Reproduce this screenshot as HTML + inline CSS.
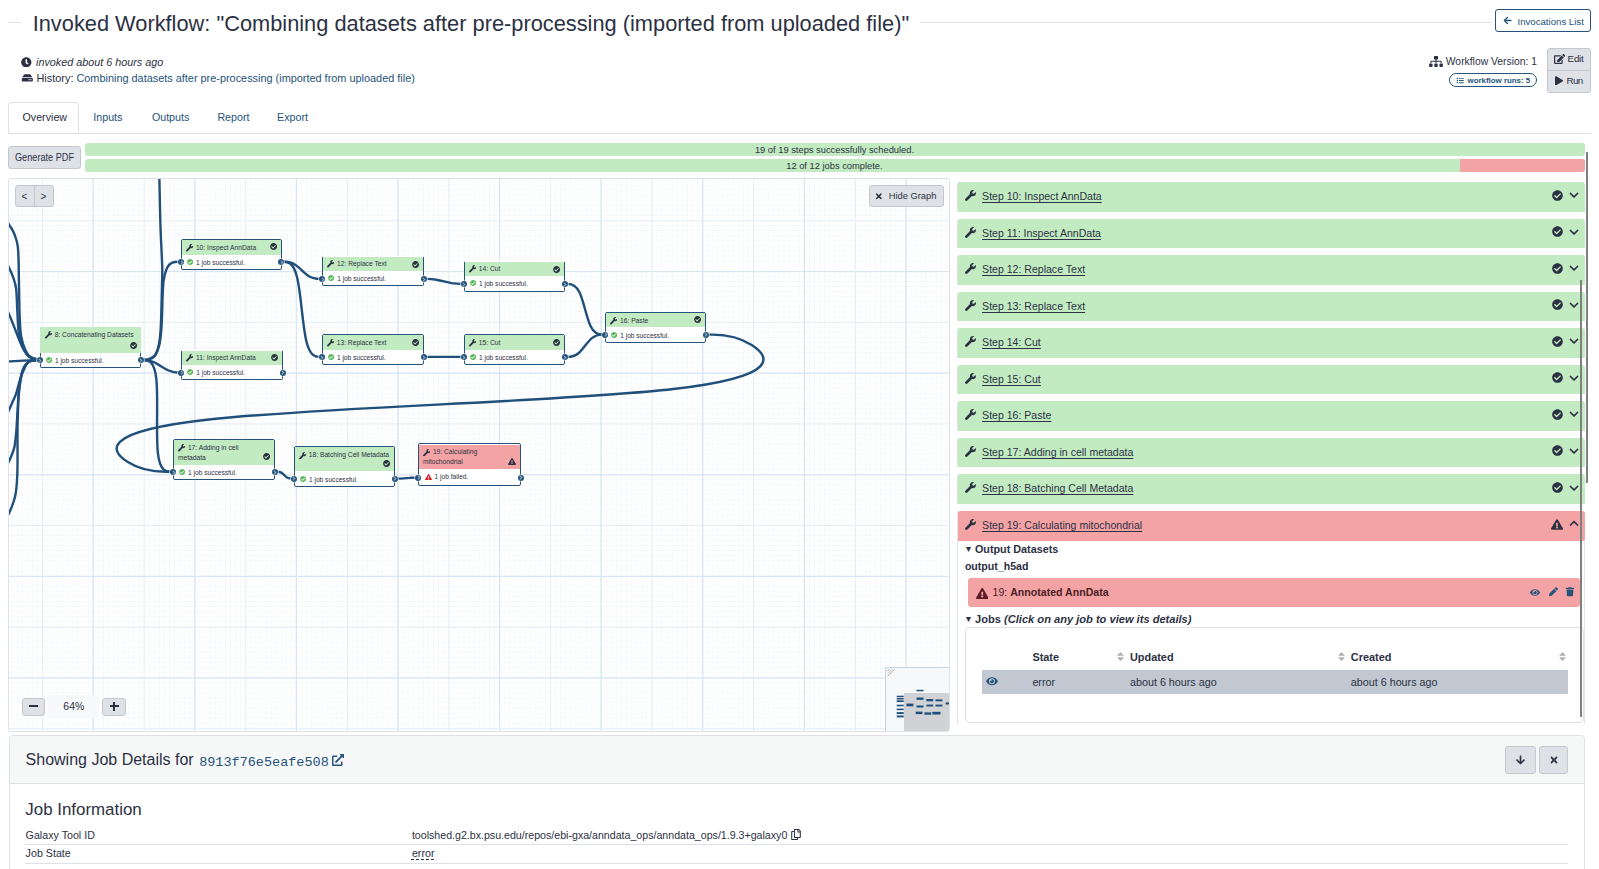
<!DOCTYPE html>
<html><head><meta charset="utf-8">
<style>
*{box-sizing:border-box;margin:0;padding:0}
html,body{width:1599px;height:869px;overflow:hidden;background:#fff}
body{font-family:"Liberation Sans",sans-serif;color:#2c3143;font-size:10.75px;position:relative}
.abs{position:absolute}
.t{position:absolute;white-space:nowrap;line-height:1}
.ico{position:absolute;display:block}
.ico svg{display:block;width:100%;height:100%}
.hr{position:absolute;height:1px;background:#dee2e6}
a{color:#25537b;text-decoration:none}
.btn2{position:absolute;background:#dee2e6;border:1px solid #c3c8ce;border-radius:3px}
/* canvas */
#canvas{position:absolute;left:8px;top:178px;width:942px;height:554px;border:1px solid #dee2e6;border-radius:3px;overflow:hidden;
 background-color:#fff;
 background-image:
  linear-gradient(to right, #d6e4f2 1.3px, transparent 1.3px),
  linear-gradient(to bottom, #d8e5f2 1.2px, transparent 1.2px),
  linear-gradient(to right, #e5edf6 1px, transparent 1px),
  linear-gradient(to bottom, #e5edf6 1px, transparent 1px),
  linear-gradient(to right, #f6f9fc 1px, transparent 1px),
  linear-gradient(to bottom, #f6f9fc 1px, transparent 1px);
 background-size:101.6px 101.6px,101.6px 101.6px,50.8px 50.8px,50.8px 50.8px,5.08px 5.08px,5.08px 5.08px;
 background-position:83.6px 41.3px,83.6px -9.5px,33.1px -9.5px,33.1px -9.5px,2.7px 0.5px,2.7px 0.5px;
}
#cv{position:absolute;left:-9px;top:-179px;width:1599px;height:869px}
#links{position:absolute;left:0;top:0;width:1599px;height:869px}
#links path{fill:none;stroke:#1f4f7a;stroke-width:2.4}
.node{position:absolute;border:1px solid #25537b;border-radius:2px;background:#fff}
.nh{position:absolute;left:0;right:0;border-radius:1px 1px 0 0}
.nt{position:absolute;font-size:6.7px;line-height:1;white-space:nowrap;color:#2c3143}
.wr{position:absolute;display:block;width:7.5px;height:7.5px;color:#2c3143}
.wr svg,.nci svg,.gck svg,.rtri svg{width:100%;height:100%;display:block}
.nci{position:absolute;width:7.2px;height:7.2px;color:#2c3143}
.gck{position:absolute;width:6.2px;height:6.2px;color:#5cb85c}
.rtri{position:absolute;width:7px;height:6.3px;color:#dc1f26}
.term{position:absolute;width:6px;height:6px;border-radius:50%;background:#25537b;box-shadow:0 0 0 0.6px #fff}
.term:after{content:"";position:absolute;left:1.3px;top:1.9px;width:1.6px;height:1.6px;border-right:0.8px solid #9fb6cc;border-top:0.8px solid #9fb6cc;transform:rotate(45deg)}
/* steps */
.step{position:absolute;left:957.3px;width:627.7px;height:29.6px;background:#c2ebc2;border-radius:3px 3px 0 0;border-left:1.5px solid #dfe3e7}
.step .wr2{position:absolute;left:6.6px;top:8px;width:11px;height:11px}
.step .lbl{position:absolute;left:23.8px;top:9px;font-size:10.55px;line-height:1;text-decoration:underline;text-underline-offset:1.5px;text-decoration-skip-ink:none;white-space:nowrap;color:#2c3143}
.step .ck{position:absolute;left:593.3px;top:7.6px;width:11px;height:11px}
.step .chev{position:absolute;left:610.3px;top:8.2px;width:10px;height:10.5px}
</style></head><body>

<!-- header -->
<div class="hr" style="left:8px;top:22px;width:13px"></div>
<div class="t" style="left:32.7px;top:12.5px;font-size:21.8px;color:#2c3143">Invoked Workflow: "Combining datasets after pre-processing (imported from uploaded file)"</div>
<div class="hr" style="left:920px;top:22px;width:572px"></div>
<div class="abs" style="left:1495px;top:9px;width:96px;height:23px;border:1px solid #25537b;border-radius:3px"></div>
<svg class="ico" style="left:1502.5px;top:15.5px;width:9px;height:9px" viewBox="0 0 448 512"><path fill="#25537b" d="M257.5 445.1l-22.2 22.2c-9.4 9.4-24.6 9.4-33.9 0L7 273c-9.4-9.4-9.4-24.6 0-33.9L201.4 44.7c9.4-9.4 24.6-9.4 33.9 0l22.2 22.2c9.5 9.5 9.3 25-.4 34.3L136.6 216H424c13.3 0 24 10.7 24 24v32c0 13.3-10.7 24-24 24H136.6l120.5 114.8c9.8 9.3 10 24.8.4 34.3z"/></svg>
<div class="t" style="left:1517.5px;top:16.5px;font-size:9.65px;color:#25537b">Invocations List</div>

<svg class="ico" style="left:21px;top:56.5px;width:10.6px;height:10.6px" viewBox="0 0 512 512"><path fill="#2c3143" d="M256 8C119 8 8 119 8 256s111 248 248 248 248-111 248-248S393 8 256 8zm57.1 350.1L224.9 294c-3.1-2.3-4.9-5.9-4.9-9.7V116c0-6.6 5.4-12 12-12h48c6.6 0 12 5.4 12 12v137.7l63.5 46.2c5.4 3.9 6.5 11.4 2.6 16.8l-28.2 38.8c-3.9 5.3-11.4 6.5-16.8 2.6z"/></svg>
<div class="t" style="left:36px;top:57px;font-size:10.8px;font-style:italic">invoked about 6 hours ago</div>
<svg class="ico" style="left:20.8px;top:73.3px;width:12.6px;height:9.8px" viewBox="0 0 576 512"><path fill="#2c3143" d="M576 304v96c0 26.51-21.49 48-48 48H48c-26.51 0-48-21.49-48-48v-96c0-26.51 21.49-48 48-48h480c26.51 0 48 21.49 48 48zm-48-80a79.557 79.557 0 0 1 30.777 6.165L462.25 85.374A48.003 48.003 0 0 0 422.311 64H153.689a48 48 0 0 0-39.938 21.374L17.223 230.165A79.557 79.557 0 0 1 48 224h480zm-48 96c-17.673 0-32 14.327-32 32s14.327 32 32 32 32-14.327 32-32-14.327-32-32-32zm-96 0c-17.673 0-32 14.327-32 32s14.327 32 32 32 32-14.327 32-32-14.327-32-32-32z"/></svg>
<div class="t" style="left:36.5px;top:72.9px;font-size:10.9px">History: <a>Combining datasets after pre-processing (imported from uploaded file)</a></div>

<svg class="ico" style="left:1429px;top:56px;width:14px;height:11px" viewBox="0 0 640 512"><path fill="#2c3143" d="M128 352H32c-17.67 0-32 14.33-32 32v96c0 17.67 14.33 32 32 32h96c17.67 0 32-14.33 32-32v-96c0-17.67-14.33-32-32-32zm-24-80h192v48h48v-48h192v48h48v-57.59c0-21.17-17.23-38.41-38.41-38.41H344v-64h40c17.67 0 32-14.33 32-32V32c0-17.67-14.33-32-32-32H256c-17.67 0-32 14.33-32 32v96c0 17.67 14.33 32 32 32h40v64H94.41C73.23 224 56 241.23 56 262.41V320h48v-48zm264 80h-96c-17.67 0-32 14.33-32 32v96c0 17.67 14.33 32 32 32h96c17.67 0 32-14.33 32-32v-96c0-17.67-14.33-32-32-32zm240 0h-96c-17.67 0-32 14.33-32 32v96c0 17.67 14.33 32 32 32h96c17.67 0 32-14.33 32-32v-96c0-17.67-14.33-32-32-32z"/></svg>
<div class="t" style="left:1445.8px;top:57.3px;font-size:10.35px">Workflow Version: 1</div>
<div class="abs" style="left:1449.3px;top:73px;width:87.5px;height:13.5px;border:1px solid #25537b;border-radius:7px"></div>
<svg class="ico" style="left:1455.8px;top:76.6px;width:8.5px;height:7px" viewBox="0 0 512 512"><path fill="#25537b" d="M80 368H16a16 16 0 0 0-16 16v64a16 16 0 0 0 16 16h64a16 16 0 0 0 16-16v-64a16 16 0 0 0-16-16zm0-320H16A16 16 0 0 0 0 64v64a16 16 0 0 0 16 16h64a16 16 0 0 0 16-16V64a16 16 0 0 0-16-16zm0 160H16a16 16 0 0 0-16 16v64a16 16 0 0 0 16 16h64a16 16 0 0 0 16-16v-64a16 16 0 0 0-16-16zm416 176H176a16 16 0 0 0-16 16v32a16 16 0 0 0 16 16h320a16 16 0 0 0 16-16v-32a16 16 0 0 0-16-16zm0-320H176a16 16 0 0 0-16 16v32a16 16 0 0 0 16 16h320a16 16 0 0 0 16-16V80a16 16 0 0 0-16-16zm0 160H176a16 16 0 0 0-16 16v32a16 16 0 0 0 16 16h320a16 16 0 0 0 16-16v-32a16 16 0 0 0-16-16z"/></svg>
<div class="t" style="left:1467.5px;top:76.9px;font-size:7.9px;font-weight:bold;color:#25537b">workflow runs: 5</div>
<div class="btn2" style="left:1547.3px;top:48.3px;width:43.3px;height:44.8px"></div>
<div class="hr" style="left:1548px;top:70px;width:42px;background:#c3c8ce"></div>
<svg class="ico" style="left:1553.5px;top:53.8px;width:11.2px;height:10px" viewBox="0 0 576 512"><path fill="#2c3143" d="M402.6 83.2l90.2 90.2c3.8 3.8 3.8 10 0 13.8L274.4 405.6l-92.8 10.3c-12.4 1.4-22.9-9.1-21.5-21.5l10.3-92.8L388.8 83.2c3.8-3.8 10-3.8 13.8 0zm162-22.9l-48.8-48.8c-15.2-15.2-39.9-15.2-55.2 0l-35.4 35.4c-3.8 3.8-3.8 10 0 13.8l90.2 90.2c3.8 3.8 10 3.8 13.8 0l35.4-35.4c15.2-15.3 15.2-40 0-55.2zM384 346.2V448H64V128h229.8c3.2 0 6.2-1.3 8.5-3.5l40-40c7.6-7.6 2.2-20.5-8.5-20.5H48C21.5 64 0 85.5 0 112v352c0 26.5 21.5 48 48 48h352c26.5 0 48-21.5 48-48V306.2c0-10.7-12.9-16-20.5-8.5l-40 40c-2.2 2.3-3.5 5.3-3.5 8.5z"/></svg>
<div class="t" style="left:1567.6px;top:54.0px;font-size:9.8px;letter-spacing:-0.25px">Edit</div>
<svg class="ico" style="left:1555px;top:75.5px;width:8px;height:9.5px" viewBox="0 0 448 512"><path fill="#2c3143" d="M424.4 214.7L72.4 6.6C43.8-10.3 0 6.1 0 47.9V464c0 37.5 40.7 60.1 72.4 41.3l352-208c31.4-18.5 31.5-64.1 0-82.6z"/></svg>
<div class="t" style="left:1566.5px;top:76.4px;font-size:9.8px;letter-spacing:-0.6px">Run</div>

<!-- tabs -->
<div class="abs" style="left:8.3px;top:102.3px;width:70.5px;height:32px;border:1px solid #dee2e6;border-bottom:none;border-radius:4px 4px 0 0;background:#fff"></div>
<div class="hr" style="left:8px;top:133px;width:1583px"></div>
<div class="t" style="left:22.5px;top:111.6px;font-size:10.7px;color:#2c3143">Overview</div>
<div class="t" style="left:93.3px;top:111.6px;font-size:10.7px;color:#25537b">Inputs</div>
<div class="t" style="left:151.9px;top:111.6px;font-size:10.7px;color:#25537b">Outputs</div>
<div class="t" style="left:217.4px;top:111.6px;font-size:10.7px;color:#25537b">Report</div>
<div class="t" style="left:277.1px;top:111.6px;font-size:10.7px;color:#25537b">Export</div>

<div class="btn2" style="left:8.3px;top:146px;width:72.4px;height:23px"></div>
<div class="t" style="left:15.4px;top:153.3px;font-size:10px;transform:scaleX(0.915);transform-origin:0 0">Generate PDF</div>
<div class="abs" style="left:85.1px;top:143.1px;width:1500.4px;height:12.5px;background:#c2ebc2;border-radius:3px"></div>
<div class="abs" style="left:85.1px;top:159px;width:1500.4px;height:12.8px;background:#c2ebc2;border-radius:3px;overflow:hidden"><div class="abs" style="left:1375.2px;top:0;width:130px;height:13px;background:#f4a3a5"></div></div>
<div class="t" style="left:754.9px;top:145.6px;font-size:9.33px">19 of 19 steps successfully scheduled.</div>
<div class="t" style="left:786.2px;top:161.8px;font-size:9.33px">12 of 12 jobs complete.</div>

<!-- canvas -->
<div id="canvas">
<div id="cv">
<svg id="links" viewBox="0 0 1599 869">
<path d="M140.9,360.0 L142.9,360.0 C144.9,360.0 148.9,360.0 153.7,362.1 C158.4,364.2 163.9,368.4 168.7,370.5 C173.4,372.6 177.4,372.6 179.4,372.6 L181.4,372.6"/>
<path d="M140.9,360.0 L144.2,360.0 C147.6,360.0 154.2,360.0 156.3,378.6 C158.4,397.3 155.8,434.5 157.9,453.2 C160.0,471.8 166.6,471.8 170.0,471.8 L173.3,471.8"/>
<path d="M281.4,261.8 L283.7,261.8 C286.1,261.8 290.7,261.8 295.2,264.7 C299.7,267.5 304.1,273.2 308.6,276.0 C313.1,278.9 317.7,278.9 320.1,278.9 L322.4,278.9"/>
<path d="M281.4,261.8 L284.4,261.8 C287.4,261.8 293.4,261.8 297.2,277.7 C301.0,293.5 302.5,325.2 306.3,341.0 C310.1,356.9 316.1,356.9 319.1,356.9 L322.1,356.9"/>
<path d="M423.7,278.9 L425.7,278.9 C427.7,278.9 431.7,278.9 436.4,279.7 C441.2,280.6 446.7,282.2 451.4,283.1 C456.2,283.9 460.2,283.9 462.2,283.9 L464.2,283.9"/>
<path d="M423.8,356.9 L425.8,356.9 C427.8,356.9 431.8,356.9 436.5,356.9 C441.3,356.9 446.7,356.9 451.5,356.9 C456.2,356.9 460.2,356.9 462.2,356.9 L464.2,356.9"/>
<path d="M564.7,283.9 L567.4,283.9 C570.0,283.9 575.4,283.9 579.5,292.3 C583.6,300.8 586.5,317.7 590.6,326.2 C594.7,334.6 600.1,334.6 602.7,334.6 L605.4,334.6"/>
<path d="M564.7,356.9 L567.0,356.9 C569.4,356.9 574.0,356.9 578.5,353.2 C582.9,349.5 587.2,342.0 591.6,338.3 C596.1,334.6 600.7,334.6 603.1,334.6 L605.4,334.6"/>
<path d="M274.6,471.8 L275.9,471.8 C277.3,471.8 279.9,471.8 281.9,472.9 C283.8,474.1 285.0,476.3 286.9,477.5 C288.9,478.6 291.5,478.6 292.9,478.6 L294.2,478.6"/>
<path d="M394.7,478.6 L396.2,478.6 C397.7,478.6 400.7,478.6 403.1,478.4 C405.6,478.3 407.4,477.9 409.9,477.8 C412.3,477.6 415.3,477.6 416.8,477.6 L418.3,477.6"/>
<path d="M705.7,334.6 L713.2,334.6 C720.7,334.6 735.6,334.6 751.7,345.0 C767.8,355.4 785.1,376.1 673.4,389.0 C561.8,401.9 321.4,407.0 208.9,419.5 C96.5,431.9 112.0,451.9 127.4,461.8 C142.8,471.8 158.1,471.8 165.7,471.8 L173.3,471.8"/>
<path d="M141.0,360.0 C142.3,359.9 146.6,360.0 149.0,359.2 C151.4,358.4 153.6,357.4 155.3,355.0 C157.0,352.6 158.3,349.2 159.3,345.0 C160.3,340.8 160.8,335.8 161.3,330.0 C161.8,324.2 162.0,315.6 162.2,310.0 C162.4,304.4 162.4,301.3 162.6,296.4 C162.8,291.5 163.0,284.9 163.6,280.5 C164.2,276.1 165.2,272.7 166.2,270.0 C167.2,267.3 168.1,265.8 169.5,264.5 C170.9,263.2 172.5,262.4 174.5,262.0 C176.5,261.6 180.2,261.8 181.3,261.8"/>
<path d="M141.0,360.0 C142.3,359.9 146.7,360.1 149.0,359.4 C151.3,358.6 153.4,357.9 155.0,355.5 C156.6,353.1 157.9,349.2 158.8,345.0 C159.7,340.8 160.2,335.8 160.6,330.0 C161.0,324.2 161.2,317.7 161.4,310.2 C161.6,302.7 161.8,291.7 162.0,285.0 C162.2,278.3 162.3,274.4 162.3,270.0 C162.3,265.6 162.2,266.3 161.9,258.6 C161.6,250.9 160.8,237.3 160.4,224.0 C160.0,210.7 159.6,189.7 159.4,179.0 C159.2,168.3 159.2,163.2 159.2,160.0"/>
<path d="M4.0,216.5 C4.8,217.9 7.5,222.2 9.1,224.7 C10.7,227.2 12.1,229.2 13.3,231.6 C14.5,234.0 15.3,236.4 16.1,239.0 C16.9,241.6 17.5,243.6 17.9,247.3 C18.3,251.0 18.4,255.7 18.6,261.1 C18.8,266.5 18.7,270.1 18.9,279.5 C19.1,288.9 19.3,308.2 19.7,317.6 C20.1,327.0 20.2,330.6 21.1,336.0 C22.0,341.4 23.7,346.3 25.3,349.9 C26.9,353.4 28.3,355.6 30.8,357.3 C33.3,359.0 38.6,359.6 40.1,360.0"/>
<path d="M5.0,260.0 C5.7,261.3 7.7,265.1 9.1,268.0 C10.5,270.9 12.1,274.2 13.3,277.7 C14.5,281.1 15.5,283.6 16.1,288.7 C16.8,293.8 16.8,301.3 17.2,308.4 C17.6,315.5 17.9,325.6 18.6,331.5 C19.3,337.4 20.1,340.2 21.5,344.0 C22.9,347.8 25.1,352.0 27.0,354.5 C28.9,357.0 30.8,358.1 33.0,359.0 C35.2,359.9 38.9,359.8 40.1,360.0"/>
<path d="M4.0,303.5 C4.8,305.3 7.4,310.5 9.1,314.4 C10.8,318.3 12.6,322.8 14.2,326.9 C15.8,331.0 17.3,335.1 18.8,338.8 C20.3,342.5 21.7,346.1 23.4,349.0 C25.1,351.9 26.2,354.6 29.0,356.4 C31.8,358.2 38.2,359.4 40.1,360.0"/>
<path d="M0.0,361.7 C1.5,361.6 5.2,361.6 9.1,361.4 C13.0,361.2 18.2,360.8 23.4,360.6 C28.6,360.4 37.3,360.1 40.1,360.0"/>
<path d="M40.1,360.0 C38.2,360.2 31.8,359.7 29.0,361.5 C26.2,363.3 24.9,367.5 23.4,370.7 C21.8,373.9 20.9,377.0 19.7,380.8 C18.5,384.6 17.3,390.2 16.1,393.7 C14.9,397.2 13.7,399.3 12.5,402.0 C11.3,404.7 10.3,407.1 9.1,409.8 C7.8,412.5 5.7,416.6 5.0,418.0"/>
<path d="M40.1,360.0 C38.2,360.3 31.9,360.0 29.0,361.8 C26.1,363.6 24.2,366.3 22.5,371.0 C20.8,375.7 19.8,383.5 19.0,390.0 C18.2,396.5 18.0,403.3 17.6,410.0 C17.2,416.7 16.9,423.7 16.4,430.0 C15.8,436.3 15.5,442.4 14.3,447.6 C13.1,452.8 10.7,457.7 9.1,461.1 C7.5,464.5 5.7,466.9 5.0,468.0"/>
<path d="M40.1,360.0 C38.2,360.3 31.9,360.0 29.0,361.8 C26.1,363.6 24.1,366.3 22.5,371.0 C20.9,375.7 19.9,383.4 19.2,390.0 C18.4,396.6 18.3,403.6 18.0,410.3 C17.7,417.0 17.6,419.8 17.5,430.0 C17.4,440.2 17.7,461.1 17.4,471.5 C17.1,481.9 16.6,487.0 15.9,492.2 C15.2,497.4 14.4,499.1 13.3,502.5 C12.2,505.9 10.5,510.0 9.1,512.9 C7.7,515.8 5.7,518.8 5.0,520.0"/>
</svg>
<div class="node" style="left:39.60px;top:326.60px;width:101.80px;height:41.60px;border-top-color:transparent">
<div class="nh" style="top:-1px;left:-1px;right:-1px;height:26.20px;background:#c2ebc2;border-radius:2px 2px 0 0"></div>
<div class="nt" style="left:14.10px;top:4.23px">8: Concatenating Datasets</div>
<span class="wr" style="left:4.10px;top:3.60px"><svg viewBox="0 0 512 512"><path fill="currentColor" d="M507.73 109.1c-2.24-9.03-13.54-12.09-20.12-5.51l-74.36 74.36-67.88-11.31-11.31-67.88 74.36-74.36c6.62-6.62 3.43-17.9-5.66-20.16-47.38-11.74-99.55.91-136.58 37.93-39.64 39.64-50.55 97.1-34.05 147.2L18.74 402.76c-24.99 24.99-24.99 65.51 0 90.5 24.99 24.99 65.51 24.99 90.5 0l213.21-213.21c50.12 16.71 107.47 5.68 147.37-34.22 37.07-37.07 49.7-89.32 37.91-136.73z"/></svg></span>
<span class="nci" style="left:89.00px;top:14.00px"><svg viewBox="0 0 512 512"><path fill="currentColor" d="M504 256c0 136.967-111.033 248-248 248S8 392.967 8 256 119.033 8 256 8s248 111.033 248 248zM227.314 387.314l184-184c6.248-6.248 6.248-16.379 0-22.627l-22.627-22.627c-6.248-6.249-16.379-6.249-22.628 0L216 308.118l-70.059-70.059c-6.248-6.248-16.379-6.248-22.628 0l-22.627 22.627c-6.248 6.248-6.248 16.379 0 22.627l104 104c6.249 6.249 16.379 6.249 22.628.001z"/></svg></span>
<div class="nt" style="font-size:6.6px;left:14.30px;top:30.41px">1 job successful.</div>
<span class="gck" style="left:5.10px;top:29.70px"><svg viewBox="0 0 512 512"><path fill="currentColor" d="M504 256c0 136.967-111.033 248-248 248S8 392.967 8 256 119.033 8 256 8s248 111.033 248 248zM227.314 387.314l184-184c6.248-6.248 6.248-16.379 0-22.627l-22.627-22.627c-6.248-6.249-16.379-6.249-22.628 0L216 308.118l-70.059-70.059c-6.248-6.248-16.379-6.248-22.628 0l-22.627 22.627c-6.248 6.248-6.248 16.379 0 22.627l104 104c6.249 6.249 16.379 6.249 22.628.001z"/></svg></span>
</div>
<div class="term" style="left:37.10px;top:357.00px"></div>
<div class="term" style="left:137.90px;top:357.00px"></div>
<div class="node" style="left:180.80px;top:238.60px;width:101.10px;height:31.60px;border-top-color:#25537b">
<div class="nh" style="top:0.00px;height:15.30px;background:#c2ebc2"></div>
<div class="nt" style="left:14.10px;top:5.33px">10: Inspect AnnData</div>
<span class="wr" style="left:4.10px;top:4.70px"><svg viewBox="0 0 512 512"><path fill="currentColor" d="M507.73 109.1c-2.24-9.03-13.54-12.09-20.12-5.51l-74.36 74.36-67.88-11.31-11.31-67.88 74.36-74.36c6.62-6.62 3.43-17.9-5.66-20.16-47.38-11.74-99.55.91-136.58 37.93-39.64 39.64-50.55 97.1-34.05 147.2L18.74 402.76c-24.99 24.99-24.99 65.51 0 90.5 24.99 24.99 65.51 24.99 90.5 0l213.21-213.21c50.12 16.71 107.47 5.68 147.37-34.22 37.07-37.07 49.7-89.32 37.91-136.73z"/></svg></span>
<span class="nci" style="left:88.30px;top:3.90px"><svg viewBox="0 0 512 512"><path fill="currentColor" d="M504 256c0 136.967-111.033 248-248 248S8 392.967 8 256 119.033 8 256 8s248 111.033 248 248zM227.314 387.314l184-184c6.248-6.248 6.248-16.379 0-22.627l-22.627-22.627c-6.248-6.249-16.379-6.249-22.628 0L216 308.118l-70.059-70.059c-6.248-6.248-16.379-6.248-22.628 0l-22.627 22.627c-6.248 6.248-6.248 16.379 0 22.627l104 104c6.249 6.249 16.379 6.249 22.628.001z"/></svg></span>
<div class="nt" style="font-size:6.6px;left:14.30px;top:20.51px">1 job successful.</div>
<span class="gck" style="left:5.10px;top:19.80px"><svg viewBox="0 0 512 512"><path fill="currentColor" d="M504 256c0 136.967-111.033 248-248 248S8 392.967 8 256 119.033 8 256 8s248 111.033 248 248zM227.314 387.314l184-184c6.248-6.248 6.248-16.379 0-22.627l-22.627-22.627c-6.248-6.249-16.379-6.249-22.628 0L216 308.118l-70.059-70.059c-6.248-6.248-16.379-6.248-22.628 0l-22.627 22.627c-6.248 6.248-6.248 16.379 0 22.627l104 104c6.249 6.249 16.379 6.249 22.628.001z"/></svg></span>
</div>
<div class="term" style="left:178.30px;top:258.80px"></div>
<div class="term" style="left:278.40px;top:258.80px"></div>
<div class="node" style="left:180.90px;top:349.60px;width:102.20px;height:30.30px;border-top-color:transparent">
<div class="nh" style="top:0.00px;height:14.20px;background:#c2ebc2"></div>
<div class="nt" style="left:14.10px;top:4.23px">11: Inspect AnnData</div>
<span class="wr" style="left:4.10px;top:3.60px"><svg viewBox="0 0 512 512"><path fill="currentColor" d="M507.73 109.1c-2.24-9.03-13.54-12.09-20.12-5.51l-74.36 74.36-67.88-11.31-11.31-67.88 74.36-74.36c6.62-6.62 3.43-17.9-5.66-20.16-47.38-11.74-99.55.91-136.58 37.93-39.64 39.64-50.55 97.1-34.05 147.2L18.74 402.76c-24.99 24.99-24.99 65.51 0 90.5 24.99 24.99 65.51 24.99 90.5 0l213.21-213.21c50.12 16.71 107.47 5.68 147.37-34.22 37.07-37.07 49.7-89.32 37.91-136.73z"/></svg></span>
<span class="nci" style="left:89.40px;top:3.90px"><svg viewBox="0 0 512 512"><path fill="currentColor" d="M504 256c0 136.967-111.033 248-248 248S8 392.967 8 256 119.033 8 256 8s248 111.033 248 248zM227.314 387.314l184-184c6.248-6.248 6.248-16.379 0-22.627l-22.627-22.627c-6.248-6.249-16.379-6.249-22.628 0L216 308.118l-70.059-70.059c-6.248-6.248-16.379-6.248-22.628 0l-22.627 22.627c-6.248 6.248-6.248 16.379 0 22.627l104 104c6.249 6.249 16.379 6.249 22.628.001z"/></svg></span>
<div class="nt" style="font-size:6.6px;left:14.30px;top:19.41px">1 job successful.</div>
<span class="gck" style="left:5.10px;top:18.70px"><svg viewBox="0 0 512 512"><path fill="currentColor" d="M504 256c0 136.967-111.033 248-248 248S8 392.967 8 256 119.033 8 256 8s248 111.033 248 248zM227.314 387.314l184-184c6.248-6.248 6.248-16.379 0-22.627l-22.627-22.627c-6.248-6.249-16.379-6.249-22.628 0L216 308.118l-70.059-70.059c-6.248-6.248-16.379-6.248-22.628 0l-22.627 22.627c-6.248 6.248-6.248 16.379 0 22.627l104 104c6.249 6.249 16.379 6.249 22.628.001z"/></svg></span>
</div>
<div class="term" style="left:178.40px;top:369.60px"></div>
<div class="term" style="left:279.60px;top:369.60px"></div>
<div class="node" style="left:321.90px;top:255.70px;width:102.30px;height:30.10px;border-top-color:transparent">
<div class="nh" style="top:0.00px;height:13.90px;background:#c2ebc2"></div>
<div class="nt" style="left:14.10px;top:4.23px">12: Replace Text</div>
<span class="wr" style="left:4.10px;top:3.60px"><svg viewBox="0 0 512 512"><path fill="currentColor" d="M507.73 109.1c-2.24-9.03-13.54-12.09-20.12-5.51l-74.36 74.36-67.88-11.31-11.31-67.88 74.36-74.36c6.62-6.62 3.43-17.9-5.66-20.16-47.38-11.74-99.55.91-136.58 37.93-39.64 39.64-50.55 97.1-34.05 147.2L18.74 402.76c-24.99 24.99-24.99 65.51 0 90.5 24.99 24.99 65.51 24.99 90.5 0l213.21-213.21c50.12 16.71 107.47 5.68 147.37-34.22 37.07-37.07 49.7-89.32 37.91-136.73z"/></svg></span>
<span class="nci" style="left:89.50px;top:3.90px"><svg viewBox="0 0 512 512"><path fill="currentColor" d="M504 256c0 136.967-111.033 248-248 248S8 392.967 8 256 119.033 8 256 8s248 111.033 248 248zM227.314 387.314l184-184c6.248-6.248 6.248-16.379 0-22.627l-22.627-22.627c-6.248-6.249-16.379-6.249-22.628 0L216 308.118l-70.059-70.059c-6.248-6.248-16.379-6.248-22.628 0l-22.627 22.627c-6.248 6.248-6.248 16.379 0 22.627l104 104c6.249 6.249 16.379 6.249 22.628.001z"/></svg></span>
<div class="nt" style="font-size:6.6px;left:14.30px;top:19.11px">1 job successful.</div>
<span class="gck" style="left:5.10px;top:18.40px"><svg viewBox="0 0 512 512"><path fill="currentColor" d="M504 256c0 136.967-111.033 248-248 248S8 392.967 8 256 119.033 8 256 8s248 111.033 248 248zM227.314 387.314l184-184c6.248-6.248 6.248-16.379 0-22.627l-22.627-22.627c-6.248-6.249-16.379-6.249-22.628 0L216 308.118l-70.059-70.059c-6.248-6.248-16.379-6.248-22.628 0l-22.627 22.627c-6.248 6.248-6.248 16.379 0 22.627l104 104c6.249 6.249 16.379 6.249 22.628.001z"/></svg></span>
</div>
<div class="term" style="left:319.40px;top:275.90px"></div>
<div class="term" style="left:420.70px;top:275.90px"></div>
<div class="node" style="left:321.60px;top:333.70px;width:102.70px;height:31.40px;border-top-color:#25537b">
<div class="nh" style="top:0.00px;height:15.10px;background:#c2ebc2"></div>
<div class="nt" style="left:14.10px;top:5.33px">13: Replace Text</div>
<span class="wr" style="left:4.10px;top:4.70px"><svg viewBox="0 0 512 512"><path fill="currentColor" d="M507.73 109.1c-2.24-9.03-13.54-12.09-20.12-5.51l-74.36 74.36-67.88-11.31-11.31-67.88 74.36-74.36c6.62-6.62 3.43-17.9-5.66-20.16-47.38-11.74-99.55.91-136.58 37.93-39.64 39.64-50.55 97.1-34.05 147.2L18.74 402.76c-24.99 24.99-24.99 65.51 0 90.5 24.99 24.99 65.51 24.99 90.5 0l213.21-213.21c50.12 16.71 107.47 5.68 147.37-34.22 37.07-37.07 49.7-89.32 37.91-136.73z"/></svg></span>
<span class="nci" style="left:89.90px;top:3.90px"><svg viewBox="0 0 512 512"><path fill="currentColor" d="M504 256c0 136.967-111.033 248-248 248S8 392.967 8 256 119.033 8 256 8s248 111.033 248 248zM227.314 387.314l184-184c6.248-6.248 6.248-16.379 0-22.627l-22.627-22.627c-6.248-6.249-16.379-6.249-22.628 0L216 308.118l-70.059-70.059c-6.248-6.248-16.379-6.248-22.628 0l-22.627 22.627c-6.248 6.248-6.248 16.379 0 22.627l104 104c6.249 6.249 16.379 6.249 22.628.001z"/></svg></span>
<div class="nt" style="font-size:6.6px;left:14.30px;top:20.31px">1 job successful.</div>
<span class="gck" style="left:5.10px;top:19.60px"><svg viewBox="0 0 512 512"><path fill="currentColor" d="M504 256c0 136.967-111.033 248-248 248S8 392.967 8 256 119.033 8 256 8s248 111.033 248 248zM227.314 387.314l184-184c6.248-6.248 6.248-16.379 0-22.627l-22.627-22.627c-6.248-6.249-16.379-6.249-22.628 0L216 308.118l-70.059-70.059c-6.248-6.248-16.379-6.248-22.628 0l-22.627 22.627c-6.248 6.248-6.248 16.379 0 22.627l104 104c6.249 6.249 16.379 6.249 22.628.001z"/></svg></span>
</div>
<div class="term" style="left:319.10px;top:353.90px"></div>
<div class="term" style="left:420.80px;top:353.90px"></div>
<div class="node" style="left:463.70px;top:260.70px;width:101.50px;height:31.40px;border-top-color:transparent">
<div class="nh" style="top:0.00px;height:14.20px;background:#c2ebc2"></div>
<div class="nt" style="left:14.10px;top:4.23px">14: Cut</div>
<span class="wr" style="left:4.10px;top:3.60px"><svg viewBox="0 0 512 512"><path fill="currentColor" d="M507.73 109.1c-2.24-9.03-13.54-12.09-20.12-5.51l-74.36 74.36-67.88-11.31-11.31-67.88 74.36-74.36c6.62-6.62 3.43-17.9-5.66-20.16-47.38-11.74-99.55.91-136.58 37.93-39.64 39.64-50.55 97.1-34.05 147.2L18.74 402.76c-24.99 24.99-24.99 65.51 0 90.5 24.99 24.99 65.51 24.99 90.5 0l213.21-213.21c50.12 16.71 107.47 5.68 147.37-34.22 37.07-37.07 49.7-89.32 37.91-136.73z"/></svg></span>
<span class="nci" style="left:88.70px;top:3.90px"><svg viewBox="0 0 512 512"><path fill="currentColor" d="M504 256c0 136.967-111.033 248-248 248S8 392.967 8 256 119.033 8 256 8s248 111.033 248 248zM227.314 387.314l184-184c6.248-6.248 6.248-16.379 0-22.627l-22.627-22.627c-6.248-6.249-16.379-6.249-22.628 0L216 308.118l-70.059-70.059c-6.248-6.248-16.379-6.248-22.628 0l-22.627 22.627c-6.248 6.248-6.248 16.379 0 22.627l104 104c6.249 6.249 16.379 6.249 22.628.001z"/></svg></span>
<div class="nt" style="font-size:6.6px;left:14.30px;top:19.41px">1 job successful.</div>
<span class="gck" style="left:5.10px;top:18.70px"><svg viewBox="0 0 512 512"><path fill="currentColor" d="M504 256c0 136.967-111.033 248-248 248S8 392.967 8 256 119.033 8 256 8s248 111.033 248 248zM227.314 387.314l184-184c6.248-6.248 6.248-16.379 0-22.627l-22.627-22.627c-6.248-6.249-16.379-6.249-22.628 0L216 308.118l-70.059-70.059c-6.248-6.248-16.379-6.248-22.628 0l-22.627 22.627c-6.248 6.248-6.248 16.379 0 22.627l104 104c6.249 6.249 16.379 6.249 22.628.001z"/></svg></span>
</div>
<div class="term" style="left:461.20px;top:280.90px"></div>
<div class="term" style="left:561.70px;top:280.90px"></div>
<div class="node" style="left:463.70px;top:333.70px;width:101.50px;height:31.40px;border-top-color:#25537b">
<div class="nh" style="top:0.00px;height:15.10px;background:#c2ebc2"></div>
<div class="nt" style="left:14.10px;top:5.33px">15: Cut</div>
<span class="wr" style="left:4.10px;top:4.70px"><svg viewBox="0 0 512 512"><path fill="currentColor" d="M507.73 109.1c-2.24-9.03-13.54-12.09-20.12-5.51l-74.36 74.36-67.88-11.31-11.31-67.88 74.36-74.36c6.62-6.62 3.43-17.9-5.66-20.16-47.38-11.74-99.55.91-136.58 37.93-39.64 39.64-50.55 97.1-34.05 147.2L18.74 402.76c-24.99 24.99-24.99 65.51 0 90.5 24.99 24.99 65.51 24.99 90.5 0l213.21-213.21c50.12 16.71 107.47 5.68 147.37-34.22 37.07-37.07 49.7-89.32 37.91-136.73z"/></svg></span>
<span class="nci" style="left:88.70px;top:3.90px"><svg viewBox="0 0 512 512"><path fill="currentColor" d="M504 256c0 136.967-111.033 248-248 248S8 392.967 8 256 119.033 8 256 8s248 111.033 248 248zM227.314 387.314l184-184c6.248-6.248 6.248-16.379 0-22.627l-22.627-22.627c-6.248-6.249-16.379-6.249-22.628 0L216 308.118l-70.059-70.059c-6.248-6.248-16.379-6.248-22.628 0l-22.627 22.627c-6.248 6.248-6.248 16.379 0 22.627l104 104c6.249 6.249 16.379 6.249 22.628.001z"/></svg></span>
<div class="nt" style="font-size:6.6px;left:14.30px;top:20.31px">1 job successful.</div>
<span class="gck" style="left:5.10px;top:19.60px"><svg viewBox="0 0 512 512"><path fill="currentColor" d="M504 256c0 136.967-111.033 248-248 248S8 392.967 8 256 119.033 8 256 8s248 111.033 248 248zM227.314 387.314l184-184c6.248-6.248 6.248-16.379 0-22.627l-22.627-22.627c-6.248-6.249-16.379-6.249-22.628 0L216 308.118l-70.059-70.059c-6.248-6.248-16.379-6.248-22.628 0l-22.627 22.627c-6.248 6.248-6.248 16.379 0 22.627l104 104c6.249 6.249 16.379 6.249 22.628.001z"/></svg></span>
</div>
<div class="term" style="left:461.20px;top:353.90px"></div>
<div class="term" style="left:561.70px;top:353.90px"></div>
<div class="node" style="left:604.90px;top:311.60px;width:101.30px;height:31.40px;border-top-color:#25537b">
<div class="nh" style="top:0.00px;height:14.90px;background:#c2ebc2"></div>
<div class="nt" style="left:14.10px;top:5.33px">16: Paste</div>
<span class="wr" style="left:4.10px;top:4.70px"><svg viewBox="0 0 512 512"><path fill="currentColor" d="M507.73 109.1c-2.24-9.03-13.54-12.09-20.12-5.51l-74.36 74.36-67.88-11.31-11.31-67.88 74.36-74.36c6.62-6.62 3.43-17.9-5.66-20.16-47.38-11.74-99.55.91-136.58 37.93-39.64 39.64-50.55 97.1-34.05 147.2L18.74 402.76c-24.99 24.99-24.99 65.51 0 90.5 24.99 24.99 65.51 24.99 90.5 0l213.21-213.21c50.12 16.71 107.47 5.68 147.37-34.22 37.07-37.07 49.7-89.32 37.91-136.73z"/></svg></span>
<span class="nci" style="left:88.50px;top:3.90px"><svg viewBox="0 0 512 512"><path fill="currentColor" d="M504 256c0 136.967-111.033 248-248 248S8 392.967 8 256 119.033 8 256 8s248 111.033 248 248zM227.314 387.314l184-184c6.248-6.248 6.248-16.379 0-22.627l-22.627-22.627c-6.248-6.249-16.379-6.249-22.628 0L216 308.118l-70.059-70.059c-6.248-6.248-16.379-6.248-22.628 0l-22.627 22.627c-6.248 6.248-6.248 16.379 0 22.627l104 104c6.249 6.249 16.379 6.249 22.628.001z"/></svg></span>
<div class="nt" style="font-size:6.6px;left:14.30px;top:20.11px">1 job successful.</div>
<span class="gck" style="left:5.10px;top:19.40px"><svg viewBox="0 0 512 512"><path fill="currentColor" d="M504 256c0 136.967-111.033 248-248 248S8 392.967 8 256 119.033 8 256 8s248 111.033 248 248zM227.314 387.314l184-184c6.248-6.248 6.248-16.379 0-22.627l-22.627-22.627c-6.248-6.249-16.379-6.249-22.628 0L216 308.118l-70.059-70.059c-6.248-6.248-16.379-6.248-22.628 0l-22.627 22.627c-6.248 6.248-6.248 16.379 0 22.627l104 104c6.249 6.249 16.379 6.249 22.628.001z"/></svg></span>
</div>
<div class="term" style="left:602.40px;top:331.60px"></div>
<div class="term" style="left:702.70px;top:331.60px"></div>
<div class="node" style="left:172.80px;top:438.80px;width:102.30px;height:41.10px;border-top-color:#25537b">
<div class="nh" style="top:0.00px;height:24.80px;background:#c2ebc2"></div>
<div class="nt" style="left:14.10px;top:5.33px">17: Adding in cell</div>
<div class="nt" style="left:4.10px;top:15.03px">metadata</div>
<span class="wr" style="left:4.10px;top:4.70px"><svg viewBox="0 0 512 512"><path fill="currentColor" d="M507.73 109.1c-2.24-9.03-13.54-12.09-20.12-5.51l-74.36 74.36-67.88-11.31-11.31-67.88 74.36-74.36c6.62-6.62 3.43-17.9-5.66-20.16-47.38-11.74-99.55.91-136.58 37.93-39.64 39.64-50.55 97.1-34.05 147.2L18.74 402.76c-24.99 24.99-24.99 65.51 0 90.5 24.99 24.99 65.51 24.99 90.5 0l213.21-213.21c50.12 16.71 107.47 5.68 147.37-34.22 37.07-37.07 49.7-89.32 37.91-136.73z"/></svg></span>
<span class="nci" style="left:89.50px;top:13.60px"><svg viewBox="0 0 512 512"><path fill="currentColor" d="M504 256c0 136.967-111.033 248-248 248S8 392.967 8 256 119.033 8 256 8s248 111.033 248 248zM227.314 387.314l184-184c6.248-6.248 6.248-16.379 0-22.627l-22.627-22.627c-6.248-6.249-16.379-6.249-22.628 0L216 308.118l-70.059-70.059c-6.248-6.248-16.379-6.248-22.628 0l-22.627 22.627c-6.248 6.248-6.248 16.379 0 22.627l104 104c6.249 6.249 16.379 6.249 22.628.001z"/></svg></span>
<div class="nt" style="font-size:6.6px;left:14.30px;top:30.01px">1 job successful.</div>
<span class="gck" style="left:5.10px;top:29.30px"><svg viewBox="0 0 512 512"><path fill="currentColor" d="M504 256c0 136.967-111.033 248-248 248S8 392.967 8 256 119.033 8 256 8s248 111.033 248 248zM227.314 387.314l184-184c6.248-6.248 6.248-16.379 0-22.627l-22.627-22.627c-6.248-6.249-16.379-6.249-22.628 0L216 308.118l-70.059-70.059c-6.248-6.248-16.379-6.248-22.628 0l-22.627 22.627c-6.248 6.248-6.248 16.379 0 22.627l104 104c6.249 6.249 16.379 6.249 22.628.001z"/></svg></span>
</div>
<div class="term" style="left:170.30px;top:468.80px"></div>
<div class="term" style="left:271.60px;top:468.80px"></div>
<div class="node" style="left:293.70px;top:445.90px;width:101.50px;height:41.00px;border-top-color:#25537b">
<div class="nh" style="top:0.00px;height:24.60px;background:#c2ebc2"></div>
<div class="nt" style="left:14.10px;top:5.33px">18: Batching Cell Metadata</div>
<span class="wr" style="left:4.10px;top:4.70px"><svg viewBox="0 0 512 512"><path fill="currentColor" d="M507.73 109.1c-2.24-9.03-13.54-12.09-20.12-5.51l-74.36 74.36-67.88-11.31-11.31-67.88 74.36-74.36c6.62-6.62 3.43-17.9-5.66-20.16-47.38-11.74-99.55.91-136.58 37.93-39.64 39.64-50.55 97.1-34.05 147.2L18.74 402.76c-24.99 24.99-24.99 65.51 0 90.5 24.99 24.99 65.51 24.99 90.5 0l213.21-213.21c50.12 16.71 107.47 5.68 147.37-34.22 37.07-37.07 49.7-89.32 37.91-136.73z"/></svg></span>
<span class="nci" style="left:88.70px;top:13.40px"><svg viewBox="0 0 512 512"><path fill="currentColor" d="M504 256c0 136.967-111.033 248-248 248S8 392.967 8 256 119.033 8 256 8s248 111.033 248 248zM227.314 387.314l184-184c6.248-6.248 6.248-16.379 0-22.627l-22.627-22.627c-6.248-6.249-16.379-6.249-22.628 0L216 308.118l-70.059-70.059c-6.248-6.248-16.379-6.248-22.628 0l-22.627 22.627c-6.248 6.248-6.248 16.379 0 22.627l104 104c6.249 6.249 16.379 6.249 22.628.001z"/></svg></span>
<div class="nt" style="font-size:6.6px;left:14.30px;top:29.81px">1 job successful.</div>
<span class="gck" style="left:5.10px;top:29.10px"><svg viewBox="0 0 512 512"><path fill="currentColor" d="M504 256c0 136.967-111.033 248-248 248S8 392.967 8 256 119.033 8 256 8s248 111.033 248 248zM227.314 387.314l184-184c6.248-6.248 6.248-16.379 0-22.627l-22.627-22.627c-6.248-6.249-16.379-6.249-22.628 0L216 308.118l-70.059-70.059c-6.248-6.248-16.379-6.248-22.628 0l-22.627 22.627c-6.248 6.248-6.248 16.379 0 22.627l104 104c6.249 6.249 16.379 6.249 22.628.001z"/></svg></span>
</div>
<div class="term" style="left:291.20px;top:475.60px"></div>
<div class="term" style="left:391.70px;top:475.60px"></div>
<div class="node" style="left:417.80px;top:442.60px;width:103.60px;height:43.30px;border-top-color:#25537b">
<div class="nh" style="top:1.50px;height:24.40px;background:#f4a3a5"></div>
<div class="nt" style="left:14.10px;top:5.63px">19: Calculating</div>
<div class="nt" style="left:4.10px;top:15.33px">mitochondrial</div>
<span class="wr" style="left:4.10px;top:5.00px"><svg viewBox="0 0 512 512"><path fill="currentColor" d="M507.73 109.1c-2.24-9.03-13.54-12.09-20.12-5.51l-74.36 74.36-67.88-11.31-11.31-67.88 74.36-74.36c6.62-6.62 3.43-17.9-5.66-20.16-47.38-11.74-99.55.91-136.58 37.93-39.64 39.64-50.55 97.1-34.05 147.2L18.74 402.76c-24.99 24.99-24.99 65.51 0 90.5 24.99 24.99 65.51 24.99 90.5 0l213.21-213.21c50.12 16.71 107.47 5.68 147.37-34.22 37.07-37.07 49.7-89.32 37.91-136.73z"/></svg></span>
<span class="nci" style="left:89.00px;top:14.60px;width:8px;height:7px"><svg viewBox="0 0 576 512"><path fill="currentColor" d="M569.517 440.013C587.975 472.007 564.806 512 527.94 512H48.054c-36.937 0-59.999-40.055-41.577-71.987L246.423 23.985c18.467-32.009 64.72-31.951 83.154 0l239.94 416.028zM288 354c-25.405 0-46 20.595-46 46s20.595 46 46 46 46-20.595 46-46-20.595-46-46-46zm-43.673-165.346l7.418 136c.347 6.364 5.609 11.346 11.982 11.346h48.546c6.373 0 11.635-4.982 11.982-11.346l7.418-136c.375-6.874-5.098-12.654-11.982-12.654h-63.383c-6.884 0-12.356 5.78-11.981 12.654z"/></svg></span>
<div class="nt" style="font-size:6.6px;left:15.80px;top:30.71px">1 job failed.</div>
<span class="rtri" style="left:6.00px;top:30.50px"><svg viewBox="0 0 576 512"><path fill="currentColor" d="M569.517 440.013C587.975 472.007 564.806 512 527.94 512H48.054c-36.937 0-59.999-40.055-41.577-71.987L246.423 23.985c18.467-32.009 64.72-31.951 83.154 0l239.94 416.028zM288 354c-25.405 0-46 20.595-46 46s20.595 46 46 46 46-20.595 46-46-20.595-46-46-46zm-43.673-165.346l7.418 136c.347 6.364 5.609 11.346 11.982 11.346h48.546c6.373 0 11.635-4.982 11.982-11.346l7.418-136c.375-6.874-5.098-12.654-11.982-12.654h-63.383c-6.884 0-12.356 5.78-11.981 12.654z"/></svg></span>
</div>
<div class="term" style="left:415.30px;top:474.60px"></div>
<div class="term" style="left:517.90px;top:474.60px"></div>
</div>
<!-- < > -->
<div class="btn2" style="left:5.7px;top:5.5px;width:39px;height:22px"></div>
<div class="abs" style="left:24.8px;top:6px;width:1px;height:21px;background:#c3c8ce"></div>
<div class="t" style="left:12.5px;top:12.5px;font-size:10px">&lt;</div>
<div class="t" style="left:31.5px;top:12.5px;font-size:10px">&gt;</div>
<!-- hide graph -->
<div class="btn2" style="left:860.3px;top:6px;width:74.5px;height:21.8px"></div>
<svg class="ico" style="left:865.8px;top:12.6px;width:7.6px;height:8.6px" viewBox="0 0 352 512"><path fill="#2c3143" d="M242.72 256l100.07-100.07c12.28-12.28 12.28-32.19 0-44.48l-22.24-22.24c-12.28-12.28-32.19-12.28-44.48 0L176 189.28 75.93 89.21c-12.28-12.28-32.19-12.28-44.48 0L9.21 111.45c-12.28 12.28-12.28 32.19 0 44.48L109.28 256 9.21 356.07c-12.28 12.28-12.28 32.19 0 44.48l22.24 22.24c12.28 12.28 32.2 12.28 44.48 0L176 322.72l100.07 100.07c12.28 12.28 32.2 12.28 44.48 0l22.24-22.24c12.28-12.28 12.28-32.19 0-44.48L242.72 256z"/></svg>
<div class="t" style="left:879.8px;top:13px;font-size:9.3px">Hide Graph</div>
<!-- zoom -->
<div class="btn2" style="left:13px;top:519px;width:23px;height:17.5px"></div>
<div class="abs" style="left:20.3px;top:526.2px;width:9px;height:2.2px;background:#2c3143"></div>
<div class="abs" style="left:38.5px;top:516px;width:51.3px;height:22.5px;background:#f8f9fb;border-radius:3px"></div>
<div class="t" style="left:54.3px;top:522.2px;font-size:10.5px">64%</div>
<div class="btn2" style="left:93px;top:519px;width:23.5px;height:17.5px"></div>
<div class="abs" style="left:100.5px;top:526.2px;width:9.3px;height:2.2px;background:#2c3143"></div>
<div class="abs" style="left:104.05px;top:523px;width:2.2px;height:8.6px;background:#2c3143"></div>
<!-- minimap -->
<div class="abs" id="mm" style="left:875.5px;top:487.7px;width:65px;height:65px;background:#f7f8fa;border:1px solid #c5d3e0;border-right:none;border-bottom:none;border-radius:3px 0 0 0;overflow:hidden">
 <div class="abs" style="left:18px;top:25px;width:50px;height:40px;background:#d0d2d6"></div>
 <svg class="abs" style="left:0;top:0" width="65" height="65" viewBox="885.5 667.5 65 65">
  <g stroke="#4a4a4a" stroke-width=".8" stroke-dasharray=".8 .5"><line x1="886.9" y1="670.6" x2="888.9" y2="668.6"/><line x1="887.1" y1="675.6" x2="894" y2="668.7"/></g><line x1="886.9" y1="673.2" x2="891.5" y2="668.6" stroke="#b5b5b5" stroke-width=".6"/>
  <g fill="#1f4f7a">
   <rect x="916" y="689.3" width="7" height="1.5"/>
   <rect x="896.2" y="695.2" width="7" height="1.5"/>
   <rect x="896.2" y="697.5" width="7" height="1.5"/>
   <rect x="896.2" y="699.8" width="7" height="1.8"/>
   <rect x="896.2" y="704.2" width="7" height="1.6"/>
   <rect x="896.2" y="708.1" width="7" height="1.6"/>
   <rect x="896.2" y="711.6" width="7" height="2"/>
   <rect x="896.2" y="715" width="7" height="1.9"/>
   <rect x="906" y="703.1" width="6.9" height="2.7"/>
   <rect x="916" y="697" width="7" height="2.3"/>
   <rect x="916" y="705" width="7" height="2"/>
   <rect x="915.2" y="711.1" width="6.7" height="2.5"/>
   <rect x="925.9" y="698.5" width="6.8" height="2.3"/>
   <rect x="925.9" y="704.1" width="6.8" height="1.9"/>
   <rect x="923.9" y="711.9" width="6.9" height="2.3"/>
   <rect x="935" y="698.9" width="6.9" height="1.9"/>
   <rect x="935" y="704.1" width="6.9" height="1.9"/>
   <rect x="931.9" y="711.3" width="8.1" height="2.7"/>
   <rect x="945.2" y="701.9" width="4" height="2.1"/>
  </g>
 </svg>
</div>
</div>

<!-- steps panel -->
<div id="steps">
<div class="step" style="top:182.0px"><span class="ico wr2"><svg viewBox="0 0 512 512"><path fill="#2c3143" d="M507.73 109.1c-2.24-9.03-13.54-12.09-20.12-5.51l-74.36 74.36-67.88-11.31-11.31-67.88 74.36-74.36c6.62-6.62 3.43-17.9-5.66-20.16-47.38-11.74-99.55.91-136.58 37.93-39.64 39.64-50.55 97.1-34.05 147.2L18.74 402.76c-24.99 24.99-24.99 65.51 0 90.5 24.99 24.99 65.51 24.99 90.5 0l213.21-213.21c50.12 16.71 107.47 5.68 147.37-34.22 37.07-37.07 49.7-89.32 37.91-136.73z"/></svg></span><span class="lbl">Step 10: Inspect AnnData</span><span class="ico ck"><svg viewBox="0 0 512 512"><path fill="#2c3143" d="M504 256c0 136.967-111.033 248-248 248S8 392.967 8 256 119.033 8 256 8s248 111.033 248 248zM227.314 387.314l184-184c6.248-6.248 6.248-16.379 0-22.627l-22.627-22.627c-6.248-6.249-16.379-6.249-22.628 0L216 308.118l-70.059-70.059c-6.248-6.248-16.379-6.248-22.628 0l-22.627 22.627c-6.248 6.248-6.248 16.379 0 22.627l104 104c6.249 6.249 16.379 6.249 22.628.001z"/></svg></span><span class="ico chev"><svg viewBox="0 0 448 512"><path fill="#2c3143" d="M207.029 381.476L12.686 187.132c-9.373-9.373-9.373-24.569 0-33.941l22.667-22.667c9.357-9.357 24.522-9.375 33.901-.04L224 284.505l154.745-154.021c9.379-9.335 24.544-9.317 33.901.04l22.667 22.667c9.373 9.373 9.373 24.569 0 33.941L240.971 381.476c-9.373 9.372-24.569 9.372-33.942 0z"/></svg></span></div>
<div class="step" style="top:218.6px"><span class="ico wr2"><svg viewBox="0 0 512 512"><path fill="#2c3143" d="M507.73 109.1c-2.24-9.03-13.54-12.09-20.12-5.51l-74.36 74.36-67.88-11.31-11.31-67.88 74.36-74.36c6.62-6.62 3.43-17.9-5.66-20.16-47.38-11.74-99.55.91-136.58 37.93-39.64 39.64-50.55 97.1-34.05 147.2L18.74 402.76c-24.99 24.99-24.99 65.51 0 90.5 24.99 24.99 65.51 24.99 90.5 0l213.21-213.21c50.12 16.71 107.47 5.68 147.37-34.22 37.07-37.07 49.7-89.32 37.91-136.73z"/></svg></span><span class="lbl">Step 11: Inspect AnnData</span><span class="ico ck"><svg viewBox="0 0 512 512"><path fill="#2c3143" d="M504 256c0 136.967-111.033 248-248 248S8 392.967 8 256 119.033 8 256 8s248 111.033 248 248zM227.314 387.314l184-184c6.248-6.248 6.248-16.379 0-22.627l-22.627-22.627c-6.248-6.249-16.379-6.249-22.628 0L216 308.118l-70.059-70.059c-6.248-6.248-16.379-6.248-22.628 0l-22.627 22.627c-6.248 6.248-6.248 16.379 0 22.627l104 104c6.249 6.249 16.379 6.249 22.628.001z"/></svg></span><span class="ico chev"><svg viewBox="0 0 448 512"><path fill="#2c3143" d="M207.029 381.476L12.686 187.132c-9.373-9.373-9.373-24.569 0-33.941l22.667-22.667c9.357-9.357 24.522-9.375 33.901-.04L224 284.505l154.745-154.021c9.379-9.335 24.544-9.317 33.901.04l22.667 22.667c9.373 9.373 9.373 24.569 0 33.941L240.971 381.476c-9.373 9.372-24.569 9.372-33.942 0z"/></svg></span></div>
<div class="step" style="top:255.1px"><span class="ico wr2"><svg viewBox="0 0 512 512"><path fill="#2c3143" d="M507.73 109.1c-2.24-9.03-13.54-12.09-20.12-5.51l-74.36 74.36-67.88-11.31-11.31-67.88 74.36-74.36c6.62-6.62 3.43-17.9-5.66-20.16-47.38-11.74-99.55.91-136.58 37.93-39.64 39.64-50.55 97.1-34.05 147.2L18.74 402.76c-24.99 24.99-24.99 65.51 0 90.5 24.99 24.99 65.51 24.99 90.5 0l213.21-213.21c50.12 16.71 107.47 5.68 147.37-34.22 37.07-37.07 49.7-89.32 37.91-136.73z"/></svg></span><span class="lbl">Step 12: Replace Text</span><span class="ico ck"><svg viewBox="0 0 512 512"><path fill="#2c3143" d="M504 256c0 136.967-111.033 248-248 248S8 392.967 8 256 119.033 8 256 8s248 111.033 248 248zM227.314 387.314l184-184c6.248-6.248 6.248-16.379 0-22.627l-22.627-22.627c-6.248-6.249-16.379-6.249-22.628 0L216 308.118l-70.059-70.059c-6.248-6.248-16.379-6.248-22.628 0l-22.627 22.627c-6.248 6.248-6.248 16.379 0 22.627l104 104c6.249 6.249 16.379 6.249 22.628.001z"/></svg></span><span class="ico chev"><svg viewBox="0 0 448 512"><path fill="#2c3143" d="M207.029 381.476L12.686 187.132c-9.373-9.373-9.373-24.569 0-33.941l22.667-22.667c9.357-9.357 24.522-9.375 33.901-.04L224 284.505l154.745-154.021c9.379-9.335 24.544-9.317 33.901.04l22.667 22.667c9.373 9.373 9.373 24.569 0 33.941L240.971 381.476c-9.373 9.372-24.569 9.372-33.942 0z"/></svg></span></div>
<div class="step" style="top:291.6px"><span class="ico wr2"><svg viewBox="0 0 512 512"><path fill="#2c3143" d="M507.73 109.1c-2.24-9.03-13.54-12.09-20.12-5.51l-74.36 74.36-67.88-11.31-11.31-67.88 74.36-74.36c6.62-6.62 3.43-17.9-5.66-20.16-47.38-11.74-99.55.91-136.58 37.93-39.64 39.64-50.55 97.1-34.05 147.2L18.74 402.76c-24.99 24.99-24.99 65.51 0 90.5 24.99 24.99 65.51 24.99 90.5 0l213.21-213.21c50.12 16.71 107.47 5.68 147.37-34.22 37.07-37.07 49.7-89.32 37.91-136.73z"/></svg></span><span class="lbl">Step 13: Replace Text</span><span class="ico ck"><svg viewBox="0 0 512 512"><path fill="#2c3143" d="M504 256c0 136.967-111.033 248-248 248S8 392.967 8 256 119.033 8 256 8s248 111.033 248 248zM227.314 387.314l184-184c6.248-6.248 6.248-16.379 0-22.627l-22.627-22.627c-6.248-6.249-16.379-6.249-22.628 0L216 308.118l-70.059-70.059c-6.248-6.248-16.379-6.248-22.628 0l-22.627 22.627c-6.248 6.248-6.248 16.379 0 22.627l104 104c6.249 6.249 16.379 6.249 22.628.001z"/></svg></span><span class="ico chev"><svg viewBox="0 0 448 512"><path fill="#2c3143" d="M207.029 381.476L12.686 187.132c-9.373-9.373-9.373-24.569 0-33.941l22.667-22.667c9.357-9.357 24.522-9.375 33.901-.04L224 284.505l154.745-154.021c9.379-9.335 24.544-9.317 33.901.04l22.667 22.667c9.373 9.373 9.373 24.569 0 33.941L240.971 381.476c-9.373 9.372-24.569 9.372-33.942 0z"/></svg></span></div>
<div class="step" style="top:328.2px"><span class="ico wr2"><svg viewBox="0 0 512 512"><path fill="#2c3143" d="M507.73 109.1c-2.24-9.03-13.54-12.09-20.12-5.51l-74.36 74.36-67.88-11.31-11.31-67.88 74.36-74.36c6.62-6.62 3.43-17.9-5.66-20.16-47.38-11.74-99.55.91-136.58 37.93-39.64 39.64-50.55 97.1-34.05 147.2L18.74 402.76c-24.99 24.99-24.99 65.51 0 90.5 24.99 24.99 65.51 24.99 90.5 0l213.21-213.21c50.12 16.71 107.47 5.68 147.37-34.22 37.07-37.07 49.7-89.32 37.91-136.73z"/></svg></span><span class="lbl">Step 14: Cut</span><span class="ico ck"><svg viewBox="0 0 512 512"><path fill="#2c3143" d="M504 256c0 136.967-111.033 248-248 248S8 392.967 8 256 119.033 8 256 8s248 111.033 248 248zM227.314 387.314l184-184c6.248-6.248 6.248-16.379 0-22.627l-22.627-22.627c-6.248-6.249-16.379-6.249-22.628 0L216 308.118l-70.059-70.059c-6.248-6.248-16.379-6.248-22.628 0l-22.627 22.627c-6.248 6.248-6.248 16.379 0 22.627l104 104c6.249 6.249 16.379 6.249 22.628.001z"/></svg></span><span class="ico chev"><svg viewBox="0 0 448 512"><path fill="#2c3143" d="M207.029 381.476L12.686 187.132c-9.373-9.373-9.373-24.569 0-33.941l22.667-22.667c9.357-9.357 24.522-9.375 33.901-.04L224 284.505l154.745-154.021c9.379-9.335 24.544-9.317 33.901.04l22.667 22.667c9.373 9.373 9.373 24.569 0 33.941L240.971 381.476c-9.373 9.372-24.569 9.372-33.942 0z"/></svg></span></div>
<div class="step" style="top:364.8px"><span class="ico wr2"><svg viewBox="0 0 512 512"><path fill="#2c3143" d="M507.73 109.1c-2.24-9.03-13.54-12.09-20.12-5.51l-74.36 74.36-67.88-11.31-11.31-67.88 74.36-74.36c6.62-6.62 3.43-17.9-5.66-20.16-47.38-11.74-99.55.91-136.58 37.93-39.64 39.64-50.55 97.1-34.05 147.2L18.74 402.76c-24.99 24.99-24.99 65.51 0 90.5 24.99 24.99 65.51 24.99 90.5 0l213.21-213.21c50.12 16.71 107.47 5.68 147.37-34.22 37.07-37.07 49.7-89.32 37.91-136.73z"/></svg></span><span class="lbl">Step 15: Cut</span><span class="ico ck"><svg viewBox="0 0 512 512"><path fill="#2c3143" d="M504 256c0 136.967-111.033 248-248 248S8 392.967 8 256 119.033 8 256 8s248 111.033 248 248zM227.314 387.314l184-184c6.248-6.248 6.248-16.379 0-22.627l-22.627-22.627c-6.248-6.249-16.379-6.249-22.628 0L216 308.118l-70.059-70.059c-6.248-6.248-16.379-6.248-22.628 0l-22.627 22.627c-6.248 6.248-6.248 16.379 0 22.627l104 104c6.249 6.249 16.379 6.249 22.628.001z"/></svg></span><span class="ico chev"><svg viewBox="0 0 448 512"><path fill="#2c3143" d="M207.029 381.476L12.686 187.132c-9.373-9.373-9.373-24.569 0-33.941l22.667-22.667c9.357-9.357 24.522-9.375 33.901-.04L224 284.505l154.745-154.021c9.379-9.335 24.544-9.317 33.901.04l22.667 22.667c9.373 9.373 9.373 24.569 0 33.941L240.971 381.476c-9.373 9.372-24.569 9.372-33.942 0z"/></svg></span></div>
<div class="step" style="top:401.3px"><span class="ico wr2"><svg viewBox="0 0 512 512"><path fill="#2c3143" d="M507.73 109.1c-2.24-9.03-13.54-12.09-20.12-5.51l-74.36 74.36-67.88-11.31-11.31-67.88 74.36-74.36c6.62-6.62 3.43-17.9-5.66-20.16-47.38-11.74-99.55.91-136.58 37.93-39.64 39.64-50.55 97.1-34.05 147.2L18.74 402.76c-24.99 24.99-24.99 65.51 0 90.5 24.99 24.99 65.51 24.99 90.5 0l213.21-213.21c50.12 16.71 107.47 5.68 147.37-34.22 37.07-37.07 49.7-89.32 37.91-136.73z"/></svg></span><span class="lbl">Step 16: Paste</span><span class="ico ck"><svg viewBox="0 0 512 512"><path fill="#2c3143" d="M504 256c0 136.967-111.033 248-248 248S8 392.967 8 256 119.033 8 256 8s248 111.033 248 248zM227.314 387.314l184-184c6.248-6.248 6.248-16.379 0-22.627l-22.627-22.627c-6.248-6.249-16.379-6.249-22.628 0L216 308.118l-70.059-70.059c-6.248-6.248-16.379-6.248-22.628 0l-22.627 22.627c-6.248 6.248-6.248 16.379 0 22.627l104 104c6.249 6.249 16.379 6.249 22.628.001z"/></svg></span><span class="ico chev"><svg viewBox="0 0 448 512"><path fill="#2c3143" d="M207.029 381.476L12.686 187.132c-9.373-9.373-9.373-24.569 0-33.941l22.667-22.667c9.357-9.357 24.522-9.375 33.901-.04L224 284.505l154.745-154.021c9.379-9.335 24.544-9.317 33.901.04l22.667 22.667c9.373 9.373 9.373 24.569 0 33.941L240.971 381.476c-9.373 9.372-24.569 9.372-33.942 0z"/></svg></span></div>
<div class="step" style="top:437.8px"><span class="ico wr2"><svg viewBox="0 0 512 512"><path fill="#2c3143" d="M507.73 109.1c-2.24-9.03-13.54-12.09-20.12-5.51l-74.36 74.36-67.88-11.31-11.31-67.88 74.36-74.36c6.62-6.62 3.43-17.9-5.66-20.16-47.38-11.74-99.55.91-136.58 37.93-39.64 39.64-50.55 97.1-34.05 147.2L18.74 402.76c-24.99 24.99-24.99 65.51 0 90.5 24.99 24.99 65.51 24.99 90.5 0l213.21-213.21c50.12 16.71 107.47 5.68 147.37-34.22 37.07-37.07 49.7-89.32 37.91-136.73z"/></svg></span><span class="lbl">Step 17: Adding in cell metadata</span><span class="ico ck"><svg viewBox="0 0 512 512"><path fill="#2c3143" d="M504 256c0 136.967-111.033 248-248 248S8 392.967 8 256 119.033 8 256 8s248 111.033 248 248zM227.314 387.314l184-184c6.248-6.248 6.248-16.379 0-22.627l-22.627-22.627c-6.248-6.249-16.379-6.249-22.628 0L216 308.118l-70.059-70.059c-6.248-6.248-16.379-6.248-22.628 0l-22.627 22.627c-6.248 6.248-6.248 16.379 0 22.627l104 104c6.249 6.249 16.379 6.249 22.628.001z"/></svg></span><span class="ico chev"><svg viewBox="0 0 448 512"><path fill="#2c3143" d="M207.029 381.476L12.686 187.132c-9.373-9.373-9.373-24.569 0-33.941l22.667-22.667c9.357-9.357 24.522-9.375 33.901-.04L224 284.505l154.745-154.021c9.379-9.335 24.544-9.317 33.901.04l22.667 22.667c9.373 9.373 9.373 24.569 0 33.941L240.971 381.476c-9.373 9.372-24.569 9.372-33.942 0z"/></svg></span></div>
<div class="step" style="top:474.4px"><span class="ico wr2"><svg viewBox="0 0 512 512"><path fill="#2c3143" d="M507.73 109.1c-2.24-9.03-13.54-12.09-20.12-5.51l-74.36 74.36-67.88-11.31-11.31-67.88 74.36-74.36c6.62-6.62 3.43-17.9-5.66-20.16-47.38-11.74-99.55.91-136.58 37.93-39.64 39.64-50.55 97.1-34.05 147.2L18.74 402.76c-24.99 24.99-24.99 65.51 0 90.5 24.99 24.99 65.51 24.99 90.5 0l213.21-213.21c50.12 16.71 107.47 5.68 147.37-34.22 37.07-37.07 49.7-89.32 37.91-136.73z"/></svg></span><span class="lbl">Step 18: Batching Cell Metadata</span><span class="ico ck"><svg viewBox="0 0 512 512"><path fill="#2c3143" d="M504 256c0 136.967-111.033 248-248 248S8 392.967 8 256 119.033 8 256 8s248 111.033 248 248zM227.314 387.314l184-184c6.248-6.248 6.248-16.379 0-22.627l-22.627-22.627c-6.248-6.249-16.379-6.249-22.628 0L216 308.118l-70.059-70.059c-6.248-6.248-16.379-6.248-22.628 0l-22.627 22.627c-6.248 6.248-6.248 16.379 0 22.627l104 104c6.249 6.249 16.379 6.249 22.628.001z"/></svg></span><span class="ico chev"><svg viewBox="0 0 448 512"><path fill="#2c3143" d="M207.029 381.476L12.686 187.132c-9.373-9.373-9.373-24.569 0-33.941l22.667-22.667c9.357-9.357 24.522-9.375 33.901-.04L224 284.505l154.745-154.021c9.379-9.335 24.544-9.317 33.901.04l22.667 22.667c9.373 9.373 9.373 24.569 0 33.941L240.971 381.476c-9.373 9.372-24.569 9.372-33.942 0z"/></svg></span></div>
<div class="step" style="top:510.9px;height:30.2px;background:#f4a3a5;border-left-color:#e2e5e9"><span class="ico wr2"><svg viewBox="0 0 512 512"><path fill="#2c3143" d="M507.73 109.1c-2.24-9.03-13.54-12.09-20.12-5.51l-74.36 74.36-67.88-11.31-11.31-67.88 74.36-74.36c6.62-6.62 3.43-17.9-5.66-20.16-47.38-11.74-99.55.91-136.58 37.93-39.64 39.64-50.55 97.1-34.05 147.2L18.74 402.76c-24.99 24.99-24.99 65.51 0 90.5 24.99 24.99 65.51 24.99 90.5 0l213.21-213.21c50.12 16.71 107.47 5.68 147.37-34.22 37.07-37.07 49.7-89.32 37.91-136.73z"/></svg></span><span class="lbl">Step 19: Calculating mitochondrial</span><span class="ico ck" style="left:592.8px;top:7.8px;width:12px;height:11px"><svg viewBox="0 0 576 512"><path fill="#2c3143" d="M569.517 440.013C587.975 472.007 564.806 512 527.94 512H48.054c-36.937 0-59.999-40.055-41.577-71.987L246.423 23.985c18.467-32.009 64.72-31.951 83.154 0l239.94 416.028zM288 354c-25.405 0-46 20.595-46 46s20.595 46 46 46 46-20.595 46-46-20.595-46-46-46zm-43.673-165.346l7.418 136c.347 6.364 5.609 11.346 11.982 11.346h48.546c6.373 0 11.635-4.982 11.982-11.346l7.418-136c.375-6.874-5.098-12.654-11.982-12.654h-63.383c-6.884 0-12.356 5.78-11.981 12.654z"/></svg></span><span class="ico chev" style="top:7.6px"><svg viewBox="0 0 448 512"><path fill="#2c3143" d="M240.971 130.524l194.343 194.343c9.373 9.373 9.373 24.569 0 33.941l-22.667 22.667c-9.357 9.357-24.522 9.375-33.901.04L224 227.495 69.255 381.516c-9.379 9.335-24.544 9.317-33.901-.04l-22.667-22.667c-9.373-9.373-9.373-24.569 0-33.941L207.03 130.525c9.372-9.373 24.568-9.373 33.941-.001z"/></svg></span></div>
<div class="abs" style="left:957.1px;top:540.4px;width:627.9px;height:183.5px;border-left:1.9px solid #e2e5e9;border-right:1px solid #e2e5e9"></div>
<div class="abs" style="left:962px;top:540px;width:622px;height:184px;overflow:hidden">
<div class="t" style="left:2.3px;top:5.3px;font-size:8.6px">&#9660;</div>
<div class="t" style="left:12.9px;top:4.0px;font-size:10.8px;font-weight:bold">Output Datasets</div>
<div class="t" style="left:2.9px;top:20.5px;font-size:10.6px;font-weight:bold">output_h5ad</div>
<div class="abs" style="left:6.2px;top:38.1px;width:612.3px;height:28.6px;background:#f4a3a5;border-radius:3px"></div>
<span class="ico" style="left:13.5px;top:48px;width:12.5px;height:11px"><svg viewBox="0 0 576 512"><path fill="#5a1e22" d="M569.517 440.013C587.975 472.007 564.806 512 527.94 512H48.054c-36.937 0-59.999-40.055-41.577-71.987L246.423 23.985c18.467-32.009 64.72-31.951 83.154 0l239.94 416.028zM288 354c-25.405 0-46 20.595-46 46s20.595 46 46 46 46-20.595 46-46-20.595-46-46-46zm-43.673-165.346l7.418 136c.347 6.364 5.609 11.346 11.982 11.346h48.546c6.373 0 11.635-4.982 11.982-11.346l7.418-136c.375-6.874-5.098-12.654-11.982-12.654h-63.383c-6.884 0-12.356 5.78-11.981 12.654z"/></svg></span>
<div class="t" style="left:30.5px;top:47px;font-size:10.6px;color:#4a2226">19: <b>Annotated AnnData</b></div>
<span class="ico" style="left:568px;top:47.5px;width:10px;height:9px"><svg viewBox="0 0 576 512"><path fill="#25537b" d="M572.52 241.4C518.29 135.59 410.93 64 288 64S57.68 135.64 3.48 241.41a32.35 32.35 0 0 0 0 29.19C57.71 376.41 165.07 448 288 448s230.32-71.64 284.52-177.41a32.35 32.35 0 0 0 0-29.19zM288 400a144 144 0 1 1 144-144 143.93 143.93 0 0 1-144 144zm0-240a95.31 95.31 0 0 0-25.31 3.79 47.85 47.85 0 0 1-66.9 66.9A95.78 95.78 0 1 0 288 160z"/></svg></span>
<span class="ico" style="left:587px;top:47px;width:9px;height:9.5px"><svg viewBox="0 0 512 512"><path fill="#25537b" d="M497.9 142.1l-46.1 46.1c-4.7 4.7-12.3 4.7-17 0l-111-111c-4.7-4.7-4.7-12.3 0-17l46.1-46.1c18.7-18.7 49.1-18.7 67.9 0l60.1 60.1c18.8 18.7 18.8 49.1 0 67.9zM284.2 99.8L21.6 362.4.4 483.9c-2.9 16.4 11.4 30.6 27.8 27.8l121.5-21.3 262.6-262.6c4.7-4.7 4.7-12.3 0-17l-111-111c-4.8-4.7-12.4-4.7-17.1 0z"/></svg></span>
<span class="ico" style="left:604px;top:47px;width:8px;height:9.5px"><svg viewBox="0 0 448 512"><path fill="#25537b" d="M432 32H312l-9.4-18.7A24 24 0 0 0 281.1 0H166.8a23.72 23.72 0 0 0-21.4 13.3L136 32H16A16 16 0 0 0 0 48v32a16 16 0 0 0 16 16h416a16 16 0 0 0 16-16V48a16 16 0 0 0-16-16zM53.2 467a48 48 0 0 0 47.9 45h245.8a48 48 0 0 0 47.9-45L416 128H32z"/></svg></span>
<div class="t" style="left:2.3px;top:75.3px;font-size:8.6px">&#9660;</div>
<div class="t" style="left:13.1px;top:73.8px;font-size:11.1px;font-weight:bold">Jobs <i>(Click on any job to view its details)</i></div>
<div class="abs" style="left:3.3px;top:86.6px;width:619.2px;height:96px;border:1px solid #dee2e6;border-radius:4px"></div>
<div class="t" style="left:70.4px;top:112px;font-size:10.9px;font-weight:bold">State</div>
<span class="ico" style="left:155px;top:111px;width:7px;height:11px"><svg viewBox="0 0 320 512"><path fill="#b0b0b0" d="M41 288h238c21.4 0 32.1 25.9 17 41L177 448c-9.4 9.4-24.6 9.4-33.9 0L24 329c-15.1-15.1-4.4-41 17-41zm255-105L177 64c-9.4-9.4-24.6-9.4-33.9 0L24 183c-15.1 15.1-4.4 41 17 41h238c21.4 0 32.1-25.9 17-41z"/></svg></span>
<div class="t" style="left:168px;top:112px;font-size:10.9px;font-weight:bold">Updated</div>
<span class="ico" style="left:375.5px;top:111px;width:7px;height:11px"><svg viewBox="0 0 320 512"><path fill="#b0b0b0" d="M41 288h238c21.4 0 32.1 25.9 17 41L177 448c-9.4 9.4-24.6 9.4-33.9 0L24 329c-15.1-15.1-4.4-41 17-41zm255-105L177 64c-9.4-9.4-24.6-9.4-33.9 0L24 183c-15.1 15.1-4.4 41 17 41h238c21.4 0 32.1-25.9 17-41z"/></svg></span>
<div class="t" style="left:388.8px;top:112px;font-size:10.9px;font-weight:bold">Created</div>
<span class="ico" style="left:596.5px;top:111px;width:7px;height:11px"><svg viewBox="0 0 320 512"><path fill="#b0b0b0" d="M41 288h238c21.4 0 32.1 25.9 17 41L177 448c-9.4 9.4-24.6 9.4-33.9 0L24 329c-15.1-15.1-4.4-41 17-41zm255-105L177 64c-9.4-9.4-24.6-9.4-33.9 0L24 183c-15.1 15.1-4.4 41 17 41h238c21.4 0 32.1-25.9 17-41z"/></svg></span>
<div class="abs" style="left:20.2px;top:130.3px;width:585.6px;height:23.4px;background:#c1c8d1"></div>
<span class="ico" style="left:24px;top:135.5px;width:12px;height:10.5px"><svg viewBox="0 0 576 512"><path fill="#25537b" d="M572.52 241.4C518.29 135.59 410.93 64 288 64S57.68 135.64 3.48 241.41a32.35 32.35 0 0 0 0 29.19C57.71 376.41 165.07 448 288 448s230.32-71.64 284.52-177.41a32.35 32.35 0 0 0 0-29.19zM288 400a144 144 0 1 1 144-144 143.93 143.93 0 0 1-144 144zm0-240a95.31 95.31 0 0 0-25.31 3.79 47.85 47.85 0 0 1-66.9 66.9A95.78 95.78 0 1 0 288 160z"/></svg></span>
<div class="t" style="left:70.4px;top:137px;font-size:10.75px">error</div>
<div class="t" style="left:168px;top:137px;font-size:10.75px">about 6 hours ago</div>
<div class="t" style="left:388.8px;top:137px;font-size:10.75px">about 6 hours ago</div>
</div>
<div class="abs" style="left:1580px;top:280px;width:2px;height:437px;background:#808080"></div>
<div class="abs" style="left:1586px;top:152px;width:2px;height:331px;background:#808080"></div>

</div>

<!-- job details -->
<div class="abs" style="left:8.5px;top:735.3px;width:1576.5px;height:150px;border:1px solid #dee2e6;border-radius:4px 4px 0 0"></div>
<div class="abs" style="left:9.5px;top:736.3px;width:1574.5px;height:47.5px;background:#f6f8f8;border-bottom:1px solid #dee2e6;border-radius:3px 3px 0 0"></div>
<div class="t" style="left:25.6px;top:752px;font-size:16px">Showing Job Details for <span style="font-family:'Liberation Mono',monospace;font-size:13.5px;color:#25537b;position:relative;top:0.5px;margin-left:1px">8913f76e5eafe508</span></div>
<span class="ico" style="left:332px;top:753.5px;width:12px;height:12px"><svg viewBox="0 0 512 512"><path fill="#25537b" d="M432,320H400a16,16,0,0,0-16,16V448H64V128H208a16,16,0,0,0,16-16V80a16,16,0,0,0-16-16H48A48,48,0,0,0,0,112V464a48,48,0,0,0,48,48H400a48,48,0,0,0,48-48V336A16,16,0,0,0,432,320ZM488,0h-128c-21.37,0-32.05,25.91-17,41l35.73,35.73L135,320.37a24,24,0,0,0,0,34L157.67,377a24,24,0,0,0,34,0L435.28,133.32,471,169c15,15,41,4.5,41-17V24A24,24,0,0,0,488,0Z"/></svg></span>
<div class="btn2" style="left:1505px;top:746.2px;width:30.7px;height:27.5px"></div>
<span class="ico" style="left:1516px;top:754px;width:9px;height:12px"><svg viewBox="0 0 448 512"><path fill="#2c3143" d="M413.1 222.5l22.2 22.2c9.4 9.4 9.4 24.6 0 33.9L241 473c-9.4 9.4-24.6 9.4-33.9 0L12.7 278.6c-9.4-9.4-9.4-24.6 0-33.9l22.2-22.2c9.5-9.5 25-9.3 34.3.4L184 343.4V56c0-13.3 10.7-24 24-24h32c13.3 0 24 10.7 24 24v287.4l114.8-120.5c9.3-9.8 24.8-10 34.3-.4z"/></svg></span>
<div class="btn2" style="left:1539.4px;top:746.2px;width:28.2px;height:27.5px"></div>
<span class="ico" style="left:1549.5px;top:755px;width:8px;height:10px"><svg viewBox="0 0 352 512"><path fill="#2c3143" d="M242.72 256l100.07-100.07c12.28-12.28 12.28-32.19 0-44.48l-22.24-22.24c-12.28-12.28-32.19-12.28-44.48 0L176 189.28 75.93 89.21c-12.28-12.28-32.19-12.28-44.48 0L9.21 111.45c-12.28 12.28-12.28 32.19 0 44.48L109.28 256 9.21 356.07c-12.28 12.28-12.28 32.19 0 44.48l22.24 22.24c12.28 12.28 32.2 12.28 44.48 0L176 322.72l100.07 100.07c12.28 12.28 32.2 12.28 44.48 0l22.24-22.24c12.28-12.28 12.28-32.19 0-44.48L242.72 256z"/></svg></span>
<div class="t" style="left:25.3px;top:802px;font-size:16.9px">Job Information</div>
<div class="t" style="left:25.6px;top:829.8px;font-size:10.7px">Galaxy Tool ID</div>
<div class="t" style="left:411.9px;top:829.8px;font-size:10.64px">toolshed.g2.bx.psu.edu/repos/ebi-gxa/anndata_ops/anndata_ops/1.9.3+galaxy0</div>
<span class="ico" style="left:791px;top:829px;width:10px;height:11px"><svg viewBox="0 0 448 512"><path fill="#2c3143" d="M433.941 65.941l-51.882-51.882A48 48 0 0 0 348.118 0H176c-26.51 0-48 21.49-48 48v48H48c-26.51 0-48 21.49-48 48v320c0 26.51 21.49 48 48 48h224c26.51 0 48-21.49 48-48v-48h80c26.51 0 48-21.49 48-48V99.882a48 48 0 0 0-14.059-33.941zM266 464H54a6 6 0 0 1-6-6V150a6 6 0 0 1 6-6h74v224c0 26.51 21.49 48 48 48h96v42a6 6 0 0 1-6 6zm128-96H182a6 6 0 0 1-6-6V54a6 6 0 0 1 6-6h106v88c0 13.255 10.745 24 24 24h88v202a6 6 0 0 1-6 6zm6-256h-64V48h9.632c1.591 0 3.117.632 4.243 1.757l48.368 48.368a6 6 0 0 1 1.757 4.243V112z"/></svg></span>
<div class="abs" style="left:25px;top:844px;width:1543px;height:1px;background:#dee2e6"></div>
<div class="t" style="left:25.6px;top:848px;font-size:10.7px">Job State</div>
<div class="t" style="left:411.9px;top:848px;font-size:10.7px;text-decoration:underline dashed;text-underline-offset:2px">error</div>
<div class="abs" style="left:25px;top:863.3px;width:1543px;height:1px;background:#dee2e6"></div>


</body></html>
